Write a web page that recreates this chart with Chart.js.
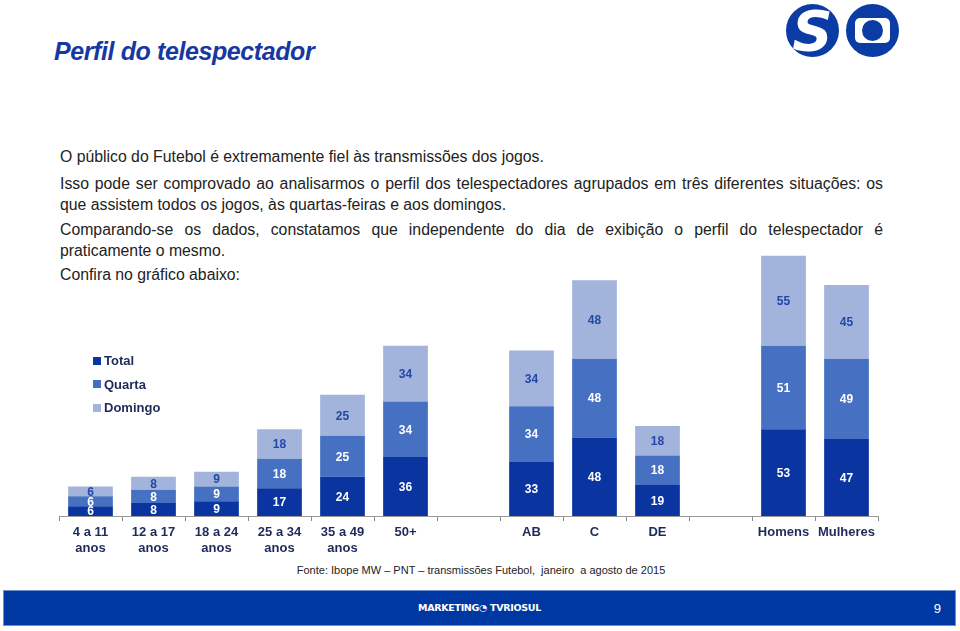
<!DOCTYPE html>
<html>
<head>
<meta charset="utf-8">
<script src="https://cdn.jsdelivr.net/npm/chart.js@4.4.1/dist/chart.umd.min.js"></script>
<style>
  body { margin: 0; width: 960px; height: 631px; background: #fff; position: relative; overflow: hidden;
         font-family: "Liberation Sans", Arial, sans-serif; }
  h1 { position: absolute; left: 54px; top: 37px; margin: 0; font-size: 25px; font-style: italic; font-weight: bold;
       color: #1738a2; letter-spacing: -0.4px; }
  .txt { position: absolute; left: 60px; width: 823px; font-size: 15.8px; color: #222; line-height: 21px; white-space: nowrap; }
  .txt .j { display: block; text-align: justify; text-align-last: justify; white-space: normal; }
  #chartWrap { position: absolute; left: 0; top: 240px; width: 960px; height: 320px; }
  #legend { position: absolute; left: 93px; top: 349px; font-family: "Liberation Sans", sans-serif; font-weight: bold;
            font-size: 13px; color: #1e2a5a; }
  #legend div { height: 23.5px; display: flex; align-items: center; }
  #legend span.box { width: 8px; height: 8px; margin-right: 3px; display: inline-block; }
  .fonte { position: absolute; left: 0; width: 962px; top: 564px; text-align: center; font-size: 11px; color: #222; }
  .bar { position: absolute; left: 3px; top: 590px; width: 953px; height: 36px; background: #0038a3;
         border: 1px solid #6d8fd0; box-sizing: border-box; color: #fff; }
  .bar .mk { position: absolute; left: 0; width: 100%; top: 11px; text-align: center; font-size: 9.5px; font-weight: bold;
             font-family: "DejaVu Sans", sans-serif; letter-spacing: -0.3px; }
  .bar .pg { position: absolute; right: 14px; top: 10px; font-size: 13px; }
  .logo { position: absolute; top: 4px; width: 53px; height: 53px; border-radius: 50%; background: #0b3ba5; }
  .logo.s { left: 786px; color: #fff; font: italic bold 56px "DejaVu Sans", sans-serif; text-align: center; line-height: 53px; overflow: hidden; }
  .logo.o { left: 846px; }
  .logo.o .scr { position: absolute; left: 9px; top: 14px; width: 35px; height: 25px; background: #fff; border-radius: 5px; }
  .logo.o .dot { position: absolute; left: 16px; top: 16px; width: 21px; height: 21px; background: #0b3ba5; border-radius: 50%; }
</style>
</head>
<body>
<h1>Perfil do telespectador</h1>
<div class="logo s">S</div>
<div class="logo o"><div class="scr"></div><div class="dot"></div></div>

<div class="txt" style="top:146px">O público do Futebol é extremamente fiel às transmissões dos jogos.</div>
<div class="txt" style="top:173px"><span class="j">Isso pode ser comprovado ao analisarmos o perfil dos telespectadores agrupados em três diferentes situações: os</span>que assistem todos os jogos, às quartas-feiras e aos domingos.</div>
<div class="txt" style="top:219px"><span class="j">Comparando-se os dados, constatamos que independente do dia de exibição o perfil do telespectador é</span>praticamente o mesmo.</div>
<div class="txt" style="top:264px">Confira no gráfico abaixo:</div>

<div id="chartWrap"><canvas id="perfil"></canvas></div>
<div id="legend"></div>

<div class="fonte">Fonte: Ibope MW – PNT – transmissões Futebol,&nbsp; janeiro&nbsp; a agosto de 2015</div>
<div class="bar"><div class="mk">MARKETING&#x25D4; TVRIOSUL</div><div class="pg">9</div></div>

<script>
const categories = [
  ['4 a 11', 'anos'], ['12 a 17', 'anos'], ['18 a 24', 'anos'], ['25 a 34', 'anos'], ['35 a 49', 'anos'], '50+',
  '', 'AB', 'C', 'DE', '', 'Homens', 'Mulheres'
];
const total   = [6, 8, 9, 17, 24, 36, null, 33, 48, 19, null, 53, 47];
const quarta  = [6, 8, 9, 18, 25, 34, null, 34, 48, 18, null, 51, 49];
const domingo = [6, 8, 9, 18, 25, 34, null, 34, 48, 18, null, 55, 45];

const seriesNames = ['Total', 'Quarta', 'Domingo'];
const colors = ['#0a35a0', '#4670c2', '#a2b4db'];
const labelColors = ['#ffffff', '#ffffff', '#2446a6'];

// values written in the middle of each segment
const segmentLabels = {
  id: 'segmentLabels',
  afterDatasetsDraw(chart) {
    const ctx = chart.ctx;
    ctx.save();
    ctx.font = 'bold 12px "Liberation Sans", sans-serif';
    ctx.textAlign = 'center';
    ctx.textBaseline = 'middle';
    chart.data.datasets.forEach((ds, i) => {
      chart.getDatasetMeta(i).data.forEach((bar, j) => {
        if (ds.data[j] == null) return;
        ctx.fillStyle = labelColors[i];
        ctx.fillText(ds.data[j], bar.x, (bar.y + bar.base) / 2 + 1);
      });
    });
    ctx.restore();
  }
};

const ctx = document.getElementById('perfil');
const chart = new Chart(ctx, {
  type: 'bar',
  data: {
    labels: categories,
    datasets: [
      { label: seriesNames[0], data: total, backgroundColor: colors[0] },
      { label: seriesNames[1], data: quarta, backgroundColor: colors[1] },
      { label: seriesNames[2], data: domingo, backgroundColor: colors[2] }
    ]
  },
  options: {
    responsive: true,
    maintainAspectRatio: false,
    animation: false,
    layout: { padding: { left: 59, right: 82, top: 14, bottom: 0 } },
    datasets: { bar: { categoryPercentage: 1, barPercentage: 0.71 } },
    plugins: { legend: { display: false }, tooltip: { enabled: false } },
    scales: {
      x: {
        stacked: true,
        afterFit(scale) { scale.height = 44; },
        border: { display: true, color: '#9a9a9a', width: 1 },
        grid: { offset: true, drawOnChartArea: false, drawTicks: true, tickLength: 5, color: '#8a8a8a' },
        ticks: {
          color: '#1e2a5a', padding: 4, maxRotation: 0, autoSkip: false,
          font: { family: '"Liberation Sans", sans-serif', weight: 'bold', size: 13, lineHeight: 1.2 }
        }
      },
      y: { stacked: true, display: false, min: 0, max: 160 }
    }
  },
  plugins: [segmentLabels]
});

// legend as html, built from the datasets
document.getElementById('legend').innerHTML = seriesNames.map((n, i) =>
  '<div><span class="box" style="background:' + colors[i] + '"></span>' + n + '</div>').join('');
</script>
</body>
</html>
